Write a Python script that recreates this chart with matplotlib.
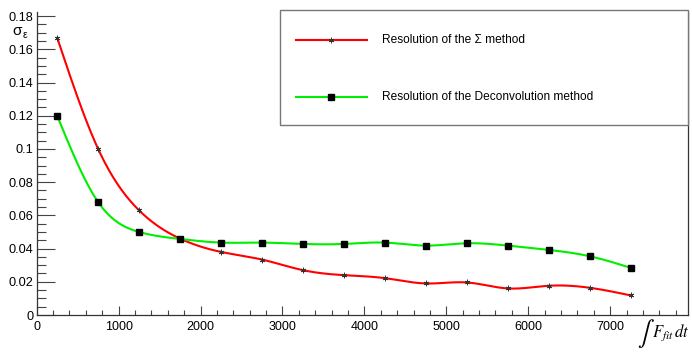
import numpy as np
import matplotlib
matplotlib.use("Agg")
import matplotlib.pyplot as plt
from matplotlib.ticker import MultipleLocator, FuncFormatter
from matplotlib.patches import Rectangle
from matplotlib.lines import Line2D

# data
x_vals = [250, 750, 1250, 1750, 2250, 2750, 3250, 3750, 4250, 4750, 5250, 5750, 6250, 6750, 7250]
sigma_res = [0.167, 0.100, 0.063, 0.046, 0.038, 0.0334, 0.027, 0.024, 0.0222, 0.019, 0.0196,
             0.016, 0.0176, 0.0164, 0.0118]
deconv_res = [0.120, 0.068, 0.050, 0.0458, 0.0436, 0.0436, 0.0428, 0.0428, 0.0436, 0.0418, 0.0432,
              0.0418, 0.0392, 0.0354, 0.0284]
label_sigma = "Resolution of the \u03a3 method"
label_deconv = "Resolution of the Deconvolution method"

W, H = 692, 352
plt.rcParams['font.family'] = ['Liberation Sans', 'DejaVu Sans']


def spline(x, y, n=400):
    # natural cubic spline through the points (ROOT "C" draw option look)
    x = np.asarray(x, float)
    y = np.asarray(y, float)
    k = len(x)
    h = np.diff(x)
    A = np.zeros((k, k))
    b = np.zeros(k)
    A[0, 0] = A[-1, -1] = 1
    for i in range(1, k - 1):
        A[i, i - 1] = h[i - 1]
        A[i, i] = 2 * (h[i - 1] + h[i])
        A[i, i + 1] = h[i]
        b[i] = 6 * ((y[i + 1] - y[i]) / h[i] - (y[i] - y[i - 1]) / h[i - 1])
    m = np.linalg.solve(A, b)
    xs = np.linspace(x[0], x[-1], n)
    j = np.clip(np.searchsorted(x, xs) - 1, 0, k - 2)
    t0 = x[j + 1] - xs
    t1 = xs - x[j]
    hj = h[j]
    ys = (m[j] * t0 ** 3 + m[j + 1] * t1 ** 3) / (6 * hj) \
        + (y[j] / hj - m[j] * hj / 6) * t0 + (y[j + 1] / hj - m[j + 1] * hj / 6) * t1
    return xs, ys


star = dict(marker=(6, 2, 0), ms=4, mec='#333333', mew=0.6)
square = dict(marker='s', ms=4.2, mfc='black', mec='black')

fig = plt.figure(figsize=(W / 100, H / 100), dpi=100)
ax = fig.add_axes([36.7 / W, 1 - 315 / H, (688 - 36.7) / W, (315 - 12) / H])

xs, ys = spline(x_vals, sigma_res)
ax.plot(xs, ys, color='#ff0000', lw=1.5, zorder=2)
xs, ys = spline(x_vals, deconv_res)
ax.plot(xs, ys, color='#00ee00', lw=1.5, zorder=2)
ax.plot(x_vals, sigma_res, ls='none', zorder=3, **star)
ax.plot(x_vals, deconv_res, ls='none', zorder=3, **square)

ax.set_xlim(0, 7950)
ax.set_ylim(0, 0.1825)
ax.spines['top'].set_visible(False)
for s in ['left', 'bottom', 'right']:
    ax.spines[s].set_color('#333333')
    ax.spines[s].set_linewidth(0.9)

ax.xaxis.set_major_locator(MultipleLocator(1000))
ax.xaxis.set_minor_locator(MultipleLocator(200))
ax.yaxis.set_major_locator(MultipleLocator(0.02))
ax.yaxis.set_minor_locator(MultipleLocator(0.005))
ax.yaxis.set_major_formatter(FuncFormatter(lambda v, p: '%g' % round(v, 4)))
ax.tick_params(axis='y', which='major', direction='in', length=13, width=0.8, color='#444444',
               labelsize=9.2, pad=2.5, right=False)
ax.tick_params(axis='y', which='minor', direction='in', length=6.5, width=0.8, color='#444444', right=False)
ax.tick_params(axis='x', which='major', direction='in', length=6.5, width=0.8, color='#444444',
               labelsize=9, pad=4, top=False)
ax.tick_params(axis='x', which='minor', direction='in', length=3.3, width=0.8, color='#444444', top=False)

# axis titles
fig.text(17 / W, 1 - 31 / H, '\u03c3', fontsize=11, ha='center', va='center')
fig.text(25 / W, 1 - 35 / H, '\u03b5', fontsize=7.5, ha='center', va='center')
fig.text(646 / W, 1 - 333 / H, r'$\int$', fontsize=18, ha='center', va='center',
         math_fontfamily='stix')
fig.text(690 / W, 1 - 333 / H, r'$F_{fit}\,dt$', fontsize=12, ha='right', va='center',
         math_fontfamily='stix')

# legend box
fig.add_artist(Rectangle((280 / W, 1 - 125 / H), (688 - 280) / W, (125 - 10) / H,
                         transform=fig.transFigure, facecolor='white', edgecolor='#777777',
                         lw=1.0, zorder=5))
entries = [(40, '#ff0000', star, label_sigma),
           (97, '#00ee00', square, label_deconv)]
for yp, col, mk, lab in entries:
    yf = 1 - yp / H
    fig.add_artist(Line2D([296 / W, 367 / W], [yf, yf], transform=fig.transFigure,
                          color=col, lw=1.5, zorder=6))
    fig.add_artist(Line2D([331 / W], [yf], transform=fig.transFigure, ls='none', zorder=7, **mk))
    fig.text(382 / W, yf, lab, fontsize=8.6, ha='left', va='center', zorder=7)

fig.savefig('out.png', dpi=100)
